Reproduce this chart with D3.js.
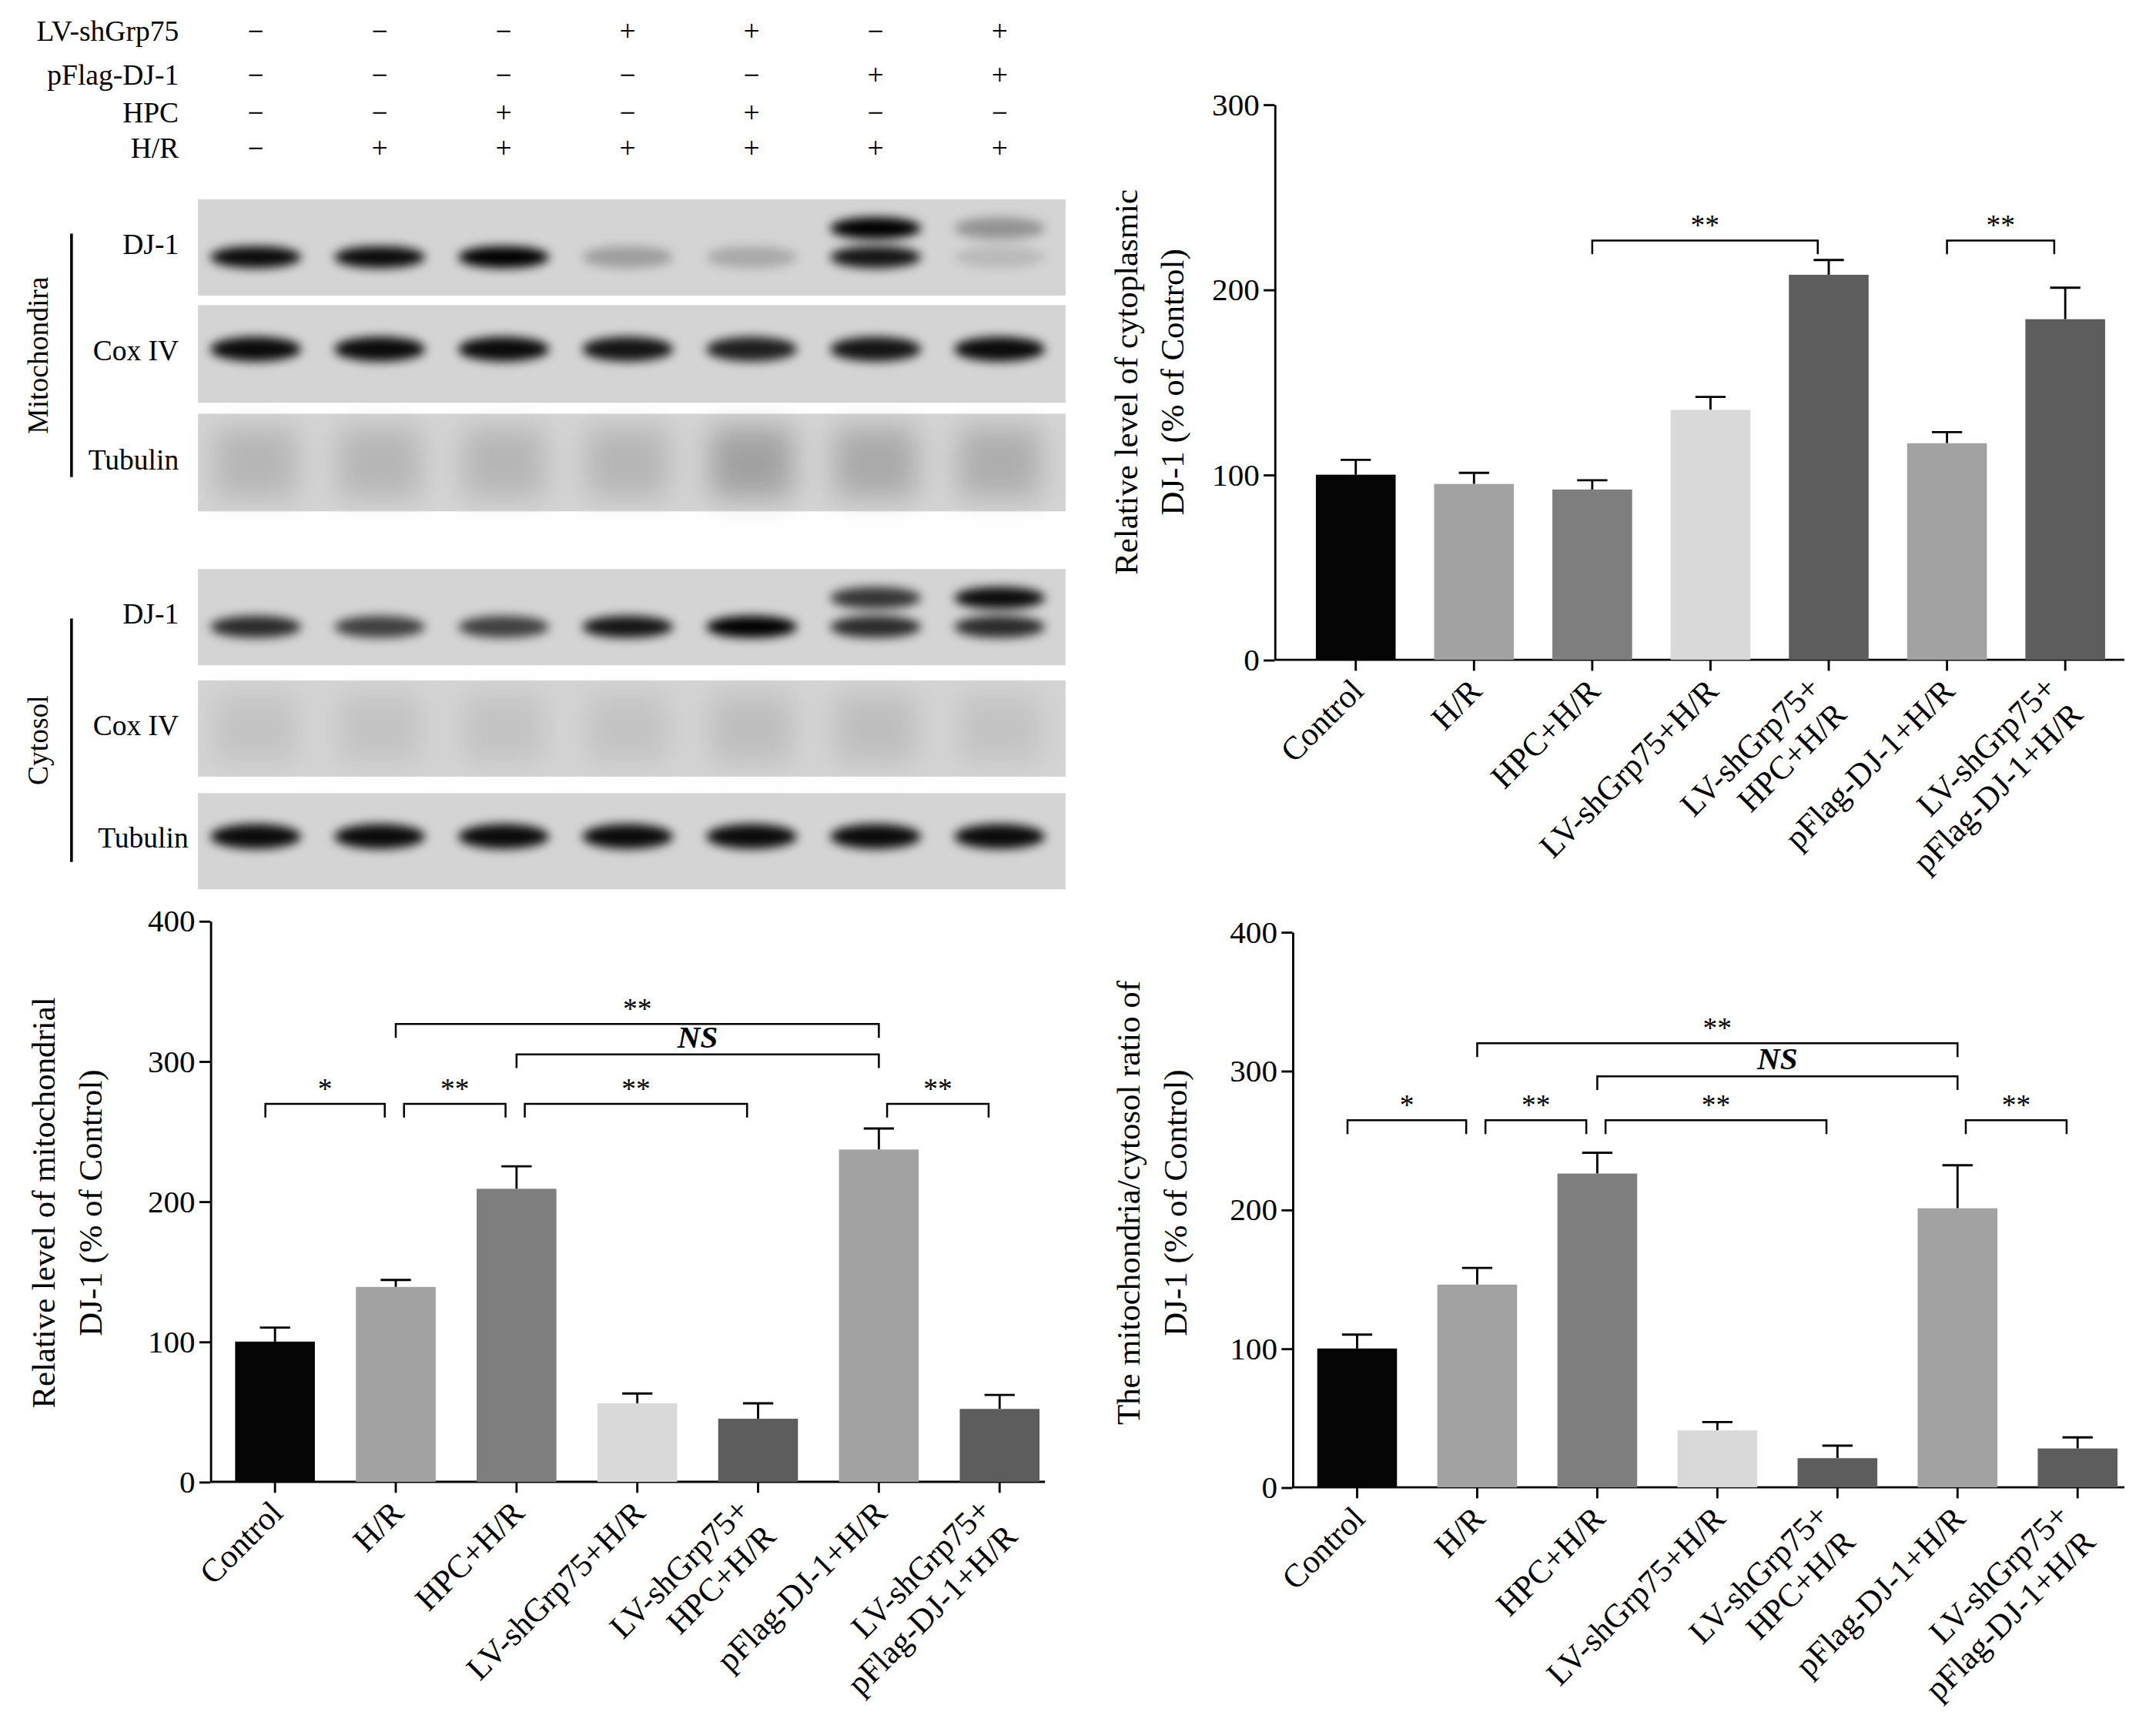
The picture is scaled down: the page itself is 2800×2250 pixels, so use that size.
<!DOCTYPE html>
<html><head><meta charset="utf-8">
<script src="https://cdn.jsdelivr.net/npm/d3@7"></script>
<style>body{margin:0;background:#fff}</style></head>
<body><svg id="c" width="2800" height="2250" viewBox="0 0 1568 1260"></svg>
<script>
const groups=["Control","H/R","HPC+H/R","LV-shGrp75+H/R","LV-shGrp75+\nHPC+H/R","pFlag-DJ-1+H/R","LV-shGrp75+\npFlag-DJ-1+H/R"];
const colors=["#050505","#a2a2a2","#7e7e7e","#d9d9d9","#5d5d5d","#a2a2a2","#5d5d5d"];
const cytoVal=[100,95,92,135,208,117,184], cytoErr=[8,6,5,7,8,6,17];
const mitoVal=[100,139,209,56,45,237,52], mitoErr=[10,5,16,7,11,15,10];
const ratioVal=[100,146,226,41,21,201,28], ratioErr=[10,12,15,6,9,31,8];
const condRows=["LV-shGrp75","pFlag-DJ-1","HPC","H/R"];
const condSigns=[["−","−","−","+","+","−","+"],["−","−","−","−","−","+","+"],["−","−","+","−","+","−","−"],["−","+","+","+","+","+","+"]];
const yTicks3=[0,100,200,300], yTicks4=[0,100,200,300,400];
const mitoDJ1Low=[0.95,0.95,1,0.25,0.2,0.9,0.12], mitoDJ1High=[0,0,0,0,0,1,0.3];
const mitoCox=[0.95,0.95,0.95,0.9,0.85,0.9,0.95];
const mitoTub=[0.14,0.14,0.14,0.14,0.24,0.2,0.18];
const cytoDJ1Low=[0.8,0.7,0.7,0.9,1,0.8,0.8], cytoDJ1High=[0,0,0,0,0,0.75,0.95];
const cytoCox=[0.08,0.08,0.08,0.08,0.1,0.1,0.08];
const cytoTub=[0.95,0.95,0.95,0.95,0.95,0.95,0.95];
const sigCyto=[[2,4,"**",0],[5,6,"**",0]];
const sigMito=[[0,1,"*",0],[1,2,"**",0],[2,4,"**",0],[5,6,"**",0],[2,5,"NS",1],[1,5,"**",2]];
const sigRatio=[[0,1,"*",0],[1,2,"**",0],[2,4,"**",0],[5,6,"**",0],[2,5,"NS",1],[1,5,"**",2]];

const svg=d3.select("#c");
const F="Liberation Serif, Times New Roman, serif";
const defs=svg.append("defs");
defs.append("filter").attr("id","blur").attr("x","-50%").attr("y","-100%").attr("width","200%").attr("height","300%")
 .append("feGaussianBlur").attr("stdDeviation",3.5);
defs.append("filter").attr("id","blur2").attr("x","-50%").attr("y","-100%").attr("width","200%").attr("height","300%")
 .append("feGaussianBlur").attr("stdDeviation",10);

const laneX=d3.scalePoint().domain(d3.range(7)).range([186,727]);
const rowY=[25,57,84,110];
condRows.forEach((r,i)=>{
  svg.append("text").attr("x",130).attr("y",rowY[i]).attr("text-anchor","end").attr("dominant-baseline","middle")
   .attr("font-family",F).attr("font-size",21).text(r);
  condSigns[i].forEach((s,j)=>svg.append("text").attr("x",laneX(j)).attr("y",rowY[i]).attr("text-anchor","middle")
   .attr("dominant-baseline","middle").attr("font-family",F).attr("font-size",21).text(s));
});
function blot(y,h,label,low,high,kind){
  svg.append("rect").attr("x",144).attr("y",y).attr("width",631).attr("height",h).attr("fill","#d4d4d4");
  svg.append("text").attr("x",kind==="tub"?137:130).attr("y",y+h/2).attr("text-anchor","end").attr("dominant-baseline","middle")
   .attr("font-family",F).attr("font-size",21).text(label);
  const g=svg.append("g").attr("filter",kind==="smear"?"url(#blur2)":"url(#blur)");
  low.forEach((v,j)=>{ if(v<=0)return;
    if(kind==="smear"){
      g.append("rect").attr("x",laneX(j)-30).attr("y",y+10).attr("width",60).attr("height",h-20).attr("fill","#000").attr("opacity",v);
    } else {
      g.append("ellipse").attr("cx",laneX(j)).attr("cy",y+(high?h*0.6:h*0.45)).attr("rx",33).attr("ry",high?8:9).attr("fill","#000").attr("opacity",v);
    }});
  if(high) high.forEach((v,j)=>{ if(v<=0)return;
    g.append("ellipse").attr("cx",laneX(j)).attr("cy",y+h*0.3).attr("rx",33).attr("ry",8).attr("fill","#000").attr("opacity",v);});
}
blot(145,70,"DJ-1",mitoDJ1Low,mitoDJ1High);
blot(222,71,"Cox IV",mitoCox,null,"cox");
blot(301,71,"Tubulin",mitoTub,null,"smear");
blot(414,70,"DJ-1",cytoDJ1Low,cytoDJ1High);
blot(495,70,"Cox IV",cytoCox,null,"smear");
blot(577,70,"Tubulin",cytoTub,null,"tub");
[[170,347,"Mitochondira"],[450,627,"Cytosol"]].forEach(([a,b,t])=>{
  svg.append("line").attr("x1",52).attr("x2",52).attr("y1",a).attr("y2",b).attr("stroke","#000").attr("stroke-width",2);
  svg.append("text").attr("transform",`translate(30,${(a+b)/2}) rotate(-90)`).attr("text-anchor","middle")
   .attr("dominant-baseline","middle").attr("font-family",F).attr("font-size",21).text(t);
});

function chart(o){
  const y=d3.scaleLinear().domain([0,o.max]).range([o.y0,o.yTop]);
  const x=d3.scalePoint().domain(d3.range(7)).range([o.c0,o.c1]);
  const g=svg.append("g");
  g.append("g").attr("transform",`translate(${o.ax},0)`).call(d3.axisLeft(y).tickValues(o.ticks).tickSize(8).tickSizeOuter(0))
   .call(s=>{s.selectAll("text").attr("font-family",F).attr("font-size",23).attr("fill","#000");s.selectAll("path,line").attr("stroke-width",1.6);});
  const xa=g.append("g").attr("transform",`translate(0,${o.y0})`);
  xa.append("line").attr("x1",o.ax).attr("x2",o.xEnd).attr("stroke","#000").attr("stroke-width",1.6);
  d3.range(7).forEach(i=>{
    xa.append("line").attr("x1",x(i)).attr("x2",x(i)).attr("y1",0).attr("y2",8).attr("stroke","#000").attr("stroke-width",1.6);
    const lines=groups[i].split("\n");
    const t=xa.append("text").attr("text-anchor","end").attr("font-family",F).attr("font-size",24);
    if(lines.length===1){
      t.attr("transform",`translate(${x(i)+7},24) rotate(-45)`).text(lines[0]);
    } else {
      t.attr("transform",`translate(${x(i)-5},22) rotate(-45)`);
      lines.forEach((l,k)=>t.append("tspan").attr("x",0).attr("y",k*27).text(l));
    }
  });
  const bw=58;
  o.vals.forEach((v,i)=>{
    g.append("line").attr("x1",x(i)).attr("x2",x(i)).attr("y1",y(v)).attr("y2",y(v+o.errs[i])).attr("stroke","#000").attr("stroke-width",1.6);
    g.append("line").attr("x1",x(i)-11).attr("x2",x(i)+11).attr("y1",y(v+o.errs[i])).attr("y2",y(v+o.errs[i])).attr("stroke","#000").attr("stroke-width",1.6);
    g.append("rect").attr("x",x(i)-bw/2).attr("y",y(v)).attr("width",bw).attr("height",o.y0-y(v)).attr("fill",colors[i]);
  });
  o.sig.forEach(([a,b,lab,lvl])=>{
    const yy=o.sigY[lvl];
    const xa1=x(a)+(o.inset?(lvl===0?( a===0?-7:6):0):0), xb1=x(b)-(lvl===0?8:0);
    g.append("path").attr("d",`M${xa1},${yy+10}V${yy}H${xb1}V${yy+10}`).attr("fill","none").attr("stroke","#000").attr("stroke-width",1.4);
    g.append("text").attr("x",(xa1+xb1)/2).attr("y",yy-(lab==="NS"?5:4)).attr("text-anchor","middle")
      .attr("font-family",F).attr("font-size",lab==="NS"?23:21).attr("font-weight",lab==="NS"?"bold":"normal")
      .attr("font-style",lab==="NS"?"italic":"normal").text(lab);
  });
  const t=svg.append("text").attr("transform",`translate(${o.lx},${o.ly}) rotate(-90)`).attr("text-anchor","middle")
    .attr("font-family",F).attr("font-size",24);
  o.label.forEach((l,k)=>t.append("tspan").attr("x",0).attr("dy",k?34:0).text(l));
}
chart({max:300,ticks:yTicks3,y0:480,yTop:76,ax:927,xEnd:1545,c0:986,c1:1502,vals:cytoVal,errs:cytoErr,sig:sigCyto,sigY:[175],
  label:["Relative level of cytoplasmic","DJ-1 (% of Control)"],lx:827,ly:278,inset:false});
chart({max:400,ticks:yTicks4,y0:1078,yTop:670,ax:153,xEnd:760,c0:200,c1:727,vals:mitoVal,errs:mitoErr,sig:sigMito,sigY:[803,767,745],
  label:["Relative level of mitochondrial","DJ-1 (% of Control)"],lx:40,ly:875,inset:true});
chart({max:400,ticks:yTicks4,y0:1082,yTop:678,ax:940,xEnd:1545,c0:987,c1:1511,vals:ratioVal,errs:ratioErr,sig:sigRatio,sigY:[815,783,759],
  label:["The mitochondria/cytosol ratio of","DJ-1 (% of Control)"],lx:829,ly:875,inset:true});
</script></body></html>
